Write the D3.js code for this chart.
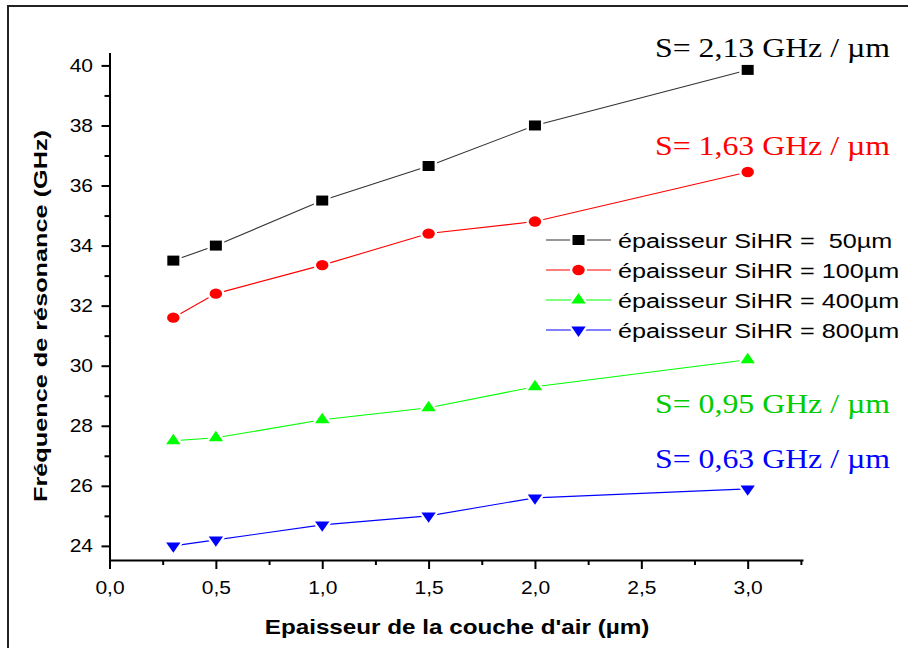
<!DOCTYPE html>
<html><head><meta charset="utf-8">
<script src="https://cdn.jsdelivr.net/npm/d3@7"></script>
<style>body{margin:0;background:#fff}svg{display:block}</style>
</head><body>
<svg id="c" width="908" height="648"></svg>
<script>
const xVals = [0.3, 0.5, 1.0, 1.5, 2.0, 3.0];
const s50  = [33.5, 34.0, 35.5, 36.65, 38.0, 39.85];
const s100 = [31.6, 32.4, 33.35, 34.4, 34.8, 36.45];
const s400 = [27.5, 27.6, 28.2, 28.6, 29.3, 30.2];
const s800 = [24.0, 24.2, 24.7, 25.0, 25.6, 25.9];
const seriesNames = ["épaisseur SiHR =  50µm", "épaisseur SiHR = 100µm", "épaisseur SiHR = 400µm", "épaisseur SiHR = 800µm"];
const slopeLabels = ["S= 2,13 GHz / µm", "S= 1,63 GHz / µm", "S= 0,95 GHz / µm", "S= 0,63 GHz / µm"];
const xTicks = [0, 0.5, 1.0, 1.5, 2.0, 2.5, 3.0];
const xMinor = [0.25, 0.75, 1.25, 1.75, 2.25, 2.75, 3.25];
const yTicks = [24, 26, 28, 30, 32, 34, 36, 38, 40];
const yMinor = [25, 27, 29, 31, 33, 35, 37, 39];
const xTitle = "Epaisseur de la couche d'air (µm)";
const yTitle = "Fréquence de résonance (GHz)";

const SX = 1.2; // horizontal stretch of the original picture
const svg = d3.select("#c");
const x = d3.scaleLinear([0, 3.26], [109.5, 803]);
const y = d3.scaleLinear([23.53, 40.43], [560, 52.5]);

// frame (top and left)
svg.append("line").attr("x1", 7).attr("x2", 908).attr("y1", 6).attr("y2", 6).attr("stroke", "#222").attr("stroke-width", 2);
svg.append("line").attr("x1", 8).attr("x2", 8).attr("y1", 5).attr("y2", 648).attr("stroke", "#222").attr("stroke-width", 2);

function txt(g, tx, ty, s, opts) {
  const tr = opts.rot
    ? `translate(${tx},${ty}) rotate(-90) scale(${opts.along || 1},1)`
    : `translate(${tx},${ty}) scale(${SX},1)`;
  return g.append("text")
    .attr("transform", tr)
    .attr("font-family", opts.family || "'Liberation Sans', Arial, sans-serif")
    .attr("font-size", opts.size)
    .attr("font-weight", opts.weight || "normal")
    .attr("fill", opts.fill || "#000")
    .attr("text-anchor", opts.anchor || "start")
    .style("white-space", "pre")
    .text(s);
}

// axes
const yAxis = svg.append("g").attr("transform", `translate(${x(0)},0)`)
  .call(d3.axisLeft(y).tickValues(yTicks).tickFormat(d3.format("d")).tickSize(8).tickSizeOuter(0));
svg.append("g").attr("transform", `translate(${x(0)},0)`)
  .call(d3.axisLeft(y).tickValues(yMinor).tickFormat("").tickSize(5).tickSizeOuter(0))
  .select(".domain").remove();
const xAxis = svg.append("g").attr("transform", `translate(0,${y.range()[0]})`)
  .call(d3.axisBottom(x).tickValues(xTicks).tickFormat(d => d3.format(".1f")(d).replace(".", ",")).tickSize(9).tickSizeOuter(0));
svg.append("g").attr("transform", `translate(0,${y.range()[0]})`)
  .call(d3.axisBottom(x).tickValues(xMinor).tickFormat("").tickSize(5).tickSizeOuter(0))
  .select(".domain").remove();

svg.selectAll(".domain").attr("stroke", "#000").attr("stroke-width", 2);
svg.selectAll(".tick line").attr("stroke", "#000").attr("stroke-width", 2);

yAxis.selectAll(".tick text")
  .attr("x", -16.5 / SX).attr("dy", "0").attr("y", 6)
  .attr("transform", `scale(${SX},1)`)
  .attr("font-family", "'Liberation Sans', Arial, sans-serif").attr("font-size", 17.5).attr("fill", "#000");
xAxis.selectAll(".tick text")
  .attr("y", 34).attr("dy", "0")
  .attr("transform", `scale(${SX},1)`)
  .attr("font-family", "'Liberation Sans', Arial, sans-serif").attr("font-size", 17.5).attr("fill", "#000");

// titles
txt(svg, 457, 634, xTitle, {size: 20.2, weight: "bold", anchor: "middle"});
txt(svg, 47, 316, yTitle, {size: 19, weight: "bold", anchor: "middle", rot: true, along: 1.33});

// series
const series = [
  {vals: s50, color: "#000", line: "#333", sym: d3.symbolSquare, size: 100, rot: 0},
  {vals: s100, color: "#ff0000", line: "#ff0000", sym: d3.symbolCircle, size: 85, rot: 0},
  {vals: s400, color: "#00ff00", line: "#00ff00", sym: d3.symbolTriangle, size: 62, rot: 0},
  {vals: s800, color: "#0000ff", line: "#0000ff", sym: d3.symbolTriangle, size: 62, rot: 180},
];
const line = d3.line().x(d => x(d[0])).y(d => y(d[1]));

function marker(g, cx, cy, s) {
  const path = d3.symbol().type(s.sym).size(s.size)();
  const tr = `translate(${cx},${cy}) scale(${SX},1) rotate(${s.rot})`;
  g.append("path").attr("d", path).attr("transform", tr)
    .attr("fill", "#fff").attr("stroke", "#fff").attr("stroke-width", 4);
  g.append("path").attr("d", path).attr("transform", tr).attr("fill", s.color);
}

series.forEach(s => {
  const pts = xVals.map((xv, i) => [xv, s.vals[i]]);
  svg.append("path").attr("d", line(pts)).attr("fill", "none").attr("stroke", s.line).attr("stroke-width", 1.1);
  const g = svg.append("g");
  pts.forEach(p => marker(g, x(p[0]), y(p[1]), s));
});

// legend
const legend = svg.append("g");
series.forEach((s, i) => {
  const cy = 240 + i * 30;
  legend.append("line").attr("x1", 546).attr("x2", 611).attr("y1", cy).attr("y2", cy)
    .attr("stroke", s.line).attr("stroke-width", 1.1);
  marker(legend, 578.5, cy, s);
  txt(legend, 618, cy + 7.5, seriesNames[i], {size: 21});
});

// slope annotations
const annColors = ["#000", "#ff0000", "#00cc00", "#0000ff"];
const annY = [57, 155, 413, 468];
slopeLabels.forEach((t, i) => {
  txt(svg, 890, annY[i], t, {size: 26.5, family: "'Liberation Serif', 'Times New Roman', serif", fill: annColors[i], anchor: "end"});
});
</script>
</body></html>
